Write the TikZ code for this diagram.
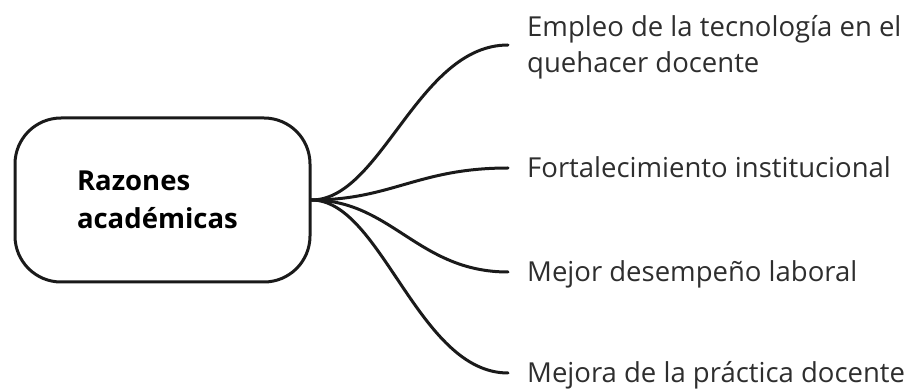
\documentclass[tikz,border=0pt]{standalone}
\usepackage{fontspec}
\setmainfont{Open Sans}
\definecolor{ink}{HTML}{1A1A1A}
\definecolor{txt}{HTML}{2E2E2E}
\begin{document}
\begin{tikzpicture}[x=1pt,y=-1pt,
  hubbox/.style={draw=ink, line width=3pt, rounded corners=46pt,
    minimum width=295pt, minimum height=164pt, inner sep=0pt,
    text width=171pt, align=left,
    font=\fontsize{27.5}{38}\selectfont\bfseries, text=black},
  leaf/.style={anchor=west, inner xsep=19pt, inner ysep=0pt,
    text height=24pt, text depth=4.4pt, align=left,
    font=\fontsize{27.5}{36}\selectfont, text=txt},
  branch/.style={draw=ink, line width=3pt, line cap=round}]
\useasboundingbox (0,0) rectangle (911,390);
\node[hubbox] (main) at (162.5,200) {Razones\\académicas};
\node[leaf, text height=60pt, text depth=4pt] (t1) at (508,45) {Empleo de la tecnología en el\\quehacer docente};
\node[leaf] (t2) at (508,168) {Fortalecimiento institucional};
\node[leaf] (t3) at (508,272) {Mejor desempeño laboral};
\node[leaf] (t4) at (508,373) {Mejora de la práctica docente};
\draw[branch] (main.east) .. controls +(70,0) and +(-90,0) .. (t1.west);
\draw[branch] (main.east) .. controls +(80,0) and +(-90,0) .. (t2.west);
\draw[branch] (main.east) .. controls +(80,0) and +(-90,0) .. (t3.west);
\draw[branch] (main.east) .. controls +(70,0) and +(-90,0) .. (t4.west);
\end{tikzpicture}
\end{document}
